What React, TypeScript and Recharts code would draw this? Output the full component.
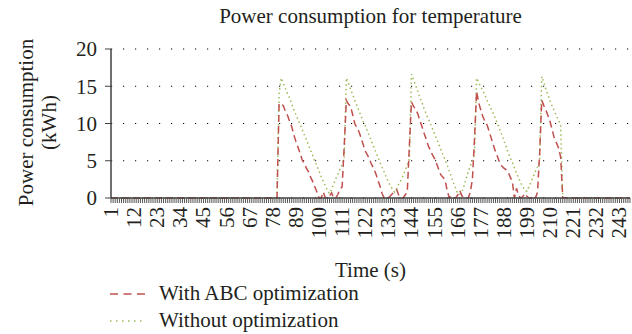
import React from 'react';
import { LineChart, Line, XAxis, YAxis, CartesianGrid, Legend } from 'recharts';

const FONT = '"Liberation Serif", "Times New Roman", serif';
const RED = '#C0504D';
const GREEN = '#9BBB59';
const INK = '#231f20';
const FS = 21;

// time steps 1..248 (s)
const timeSteps = Array.from({ length: 248 }, (_, i) => i + 1);
const yTicks = [0, 5, 10, 15, 20];

// flat parts: s 1-79 and s 217-248
const idleStart = [
    0, 0, 0, 0, 0, 0, 0, 0, 0, 0,
    0, 0, 0, 0, 0, 0, 0, 0, 0, 0,
    0, 0, 0, 0, 0, 0, 0, 0, 0, 0,
    0, 0, 0, 0, 0, 0, 0, 0, 0, 0,
    0, 0, 0, 0, 0, 0, 0, 0, 0, 0,
    0, 0, 0, 0, 0, 0, 0, 0, 0, 0,
    0, 0, 0, 0, 0, 0, 0, 0, 0, 0,
    0, 0, 0, 0, 0, 0, 0, 0, 0
];
const idleEnd = [
    0, 0, 0, 0, 0, 0, 0, 0, 0, 0,
    0, 0, 0, 0, 0, 0, 0, 0, 0, 0,
    0, 0, 0, 0, 0, 0, 0, 0, 0, 0,
    0, 0
];

// s 80-216
const withAbcActive = [
    0, 12.7, 12.6, 12.4, 11.6, 11.1, 10.3, 9.6, 8.5, 7.6,
    6.8, 6.0, 5.1, 4.6, 4.0, 3.5, 2.8, 2.2, 1.5, 0.8,
    0, 0, 0.8, 0, 0, 0.3, 0.7, 0, 0, 0.5,
    1.2, 1.5, 7.0, 13.1, 12.6, 12.3, 11.2, 10.0, 9.5, 8.9,
    8.1, 7.2, 6.3, 5.8, 5.2, 4.5, 4.0, 3.3, 2.4, 1.6,
    0.6, 0, 0, 0, 0.3, 0.6, 0.9, 1.1, 0.3, 0,
    0, 0.4, 0.8, 7.0, 12.9, 12.3, 11.9, 11.3, 10.4, 9.6,
    8.7, 7.9, 7.0, 6.4, 5.8, 5.3, 4.6, 3.8, 3.1, 2.8,
    2.4, 1.0, 0, 0.3, 0, 0, 0.4, 1.0, 0.3, 0,
    0, 0, 0.8, 2.5, 8.0, 14.3, 12.8, 11.8, 10.9, 10.3,
    9.8, 8.9, 8.0, 7.1, 6.2, 5.5, 4.7, 4.3, 4.0, 3.8,
    3.5, 2.8, 2.2, 0, 1.3, 0.3, 0, 0.2, 0.6, 0.2,
    0, 0, 0.3, 0, 0.8, 6.0, 13.1, 12.4, 11.8, 11.0,
    10.2, 9.1, 8.0, 7.4, 6.7, 5.5, 0
];
const withoutOptActive = [
    0, 14.0, 16.1, 15.4, 14.7, 14.0, 13.4, 12.6, 11.9, 11.2,
    10.5, 9.9, 9.2, 8.5, 7.8, 7.1, 6.4, 5.7, 5.0, 4.3,
    3.6, 2.9, 2.3, 1.6, 1.0, 0.6, 1.2, 1.9, 2.6, 3.2,
    3.9, 4.5, 5.5, 16.1, 15.4, 14.6, 13.9, 13.1, 12.4, 11.7,
    11.0, 10.3, 9.7, 9.0, 8.3, 7.6, 6.9, 6.2, 5.5, 4.8,
    4.1, 3.5, 2.8, 2.2, 1.6, 1.2, 0.8, 1.3, 1.9, 2.4,
    3.0, 3.7, 4.4, 5.2, 16.6, 15.9, 15.1, 14.3, 13.5, 12.8,
    12.0, 11.3, 10.6, 10.0, 9.3, 8.6, 7.9, 7.2, 6.5, 5.8,
    5.1, 4.4, 3.6, 2.8, 2.0, 1.3, 0.6, 0.5, 0.8, 1.6,
    2.6, 3.5, 4.3, 5.1, 5.8, 16.1, 15.5, 14.9, 14.4, 13.8,
    13.1, 12.5, 11.9, 11.3, 10.6, 9.9, 9.2, 8.5, 7.7, 6.9,
    6.1, 5.4, 4.8, 4.0, 3.3, 2.7, 2.0, 1.5, 1.0, 0.9,
    1.6, 2.2, 2.9, 3.6, 4.2, 5.0, 16.3, 15.5, 14.6, 13.8,
    13.0, 12.3, 11.7, 11.0, 10.4, 9.8, 0
];

const withAbc = [...idleStart, ...withAbcActive, ...idleEnd];
const withoutOpt = [...idleStart, ...withoutOptActive, ...idleEnd];

const data = timeSteps.map((t, i) => ({ t, abc: withAbc[i], plain: withoutOpt[i] }));

const legendItems = [
    { label: 'With ABC optimization', color: RED, dash: '8 5.5' },
    { label: 'Without optimization', color: GREEN, dash: '1.5 4.5' }
];

function TimeTick({ x, y, payload }: any) {
    if ((payload.value - 1) % 11 !== 0) return null;
    return (
        <text
            x={x}
            y={y}
            transform={`rotate(-90 ${x} ${y})`}
            textAnchor="end"
            dominantBaseline="central"
            fontSize={FS}
            fontFamily={FONT}
            fill={INK}
        >
            {payload.value}
        </text>
    );
}

function PowerLabel({ viewBox }: any) {
    const cy = viewBox.y + viewBox.height / 2 - 1;
    return (
        <g fontFamily={FONT} fontSize={FS} fill={INK}>
            <text x={26} y={cy} transform={`rotate(-90 26 ${cy})`} textAnchor="middle" dominantBaseline="central">
                Power consumption
            </text>
            <text x={49} y={cy} transform={`rotate(-90 49 ${cy})`} textAnchor="middle" dominantBaseline="central">
                (kWh)
            </text>
        </g>
    );
}

function SeriesLegend() {
    return (
        <div style={{ position: 'relative', height: 51, fontFamily: FONT, fontSize: FS, color: INK }}>
            {legendItems.map((item, i) => (
                <div
                    key={item.label}
                    style={{ position: 'absolute', left: 110, top: i * 27 - 3, height: 27, display: 'flex', alignItems: 'center' }}
                >
                    <svg width={35} height={10}>
                        <line x1={0} y1={5} x2={35} y2={5} stroke={item.color} strokeWidth={1.5} strokeDasharray={item.dash} />
                    </svg>
                    <span style={{ marginLeft: 14, whiteSpace: 'nowrap' }}>{item.label}</span>
                </div>
            ))}
        </div>
    );
}

export default function App() {
    return (
        <div style={{ position: 'absolute', left: 0, top: 0, width: 632, height: 334, background: '#fff' }}>
            <div
                style={{
                    position: 'absolute', left: 111, top: 3, width: 519, textAlign: 'center',
                    fontFamily: FONT, fontSize: FS, color: INK, lineHeight: '26px'
                }}
            >
                Power consumption for temperature
            </div>
            <LineChart width={632} height={334} data={data} margin={{ top: 49, right: 2, bottom: 0, left: 0 }}>
                <CartesianGrid vertical={false} stroke="#000" strokeDasharray="1.2 10.8" />
                <XAxis
                    dataKey="t"
                    interval={0}
                    height={85}
                    tickSize={5}
                    tickMargin={4}
                    tick={(p: any) => <TimeTick {...p} />}
                    tickLine={{ stroke: '#555' }}
                    axisLine={{ stroke: '#404040', strokeWidth: 1.5 }}
                    label={{ value: 'Time (s)', position: 'insideBottom', offset: 6, style: { fontFamily: FONT, fontSize: FS, fill: INK } }}
                />
                <YAxis
                    domain={[0, 20]}
                    ticks={yTicks}
                    width={111}
                    tickSize={6}
                    tickMargin={8}
                    tick={{ fontFamily: FONT, fontSize: FS, fill: INK }}
                    tickLine={{ stroke: '#404040' }}
                    axisLine={{ stroke: '#404040', strokeWidth: 1.5 }}
                    label={<PowerLabel />}
                />
                <Legend content={<SeriesLegend />} wrapperStyle={{ left: 0, bottom: 0, width: 632, height: 51 }} />
                <Line
                    type="linear"
                    dataKey="plain"
                    name="Without optimization"
                    stroke={GREEN}
                    strokeWidth={1.5}
                    strokeDasharray="1.5 3"
                    dot={false}
                    isAnimationActive={false}
                />
                <Line
                    type="linear"
                    dataKey="abc"
                    name="With ABC optimization"
                    stroke={RED}
                    strokeWidth={1.5}
                    strokeDasharray="7 4"
                    dot={false}
                    isAnimationActive={false}
                />
            </LineChart>
        </div>
    );
}
